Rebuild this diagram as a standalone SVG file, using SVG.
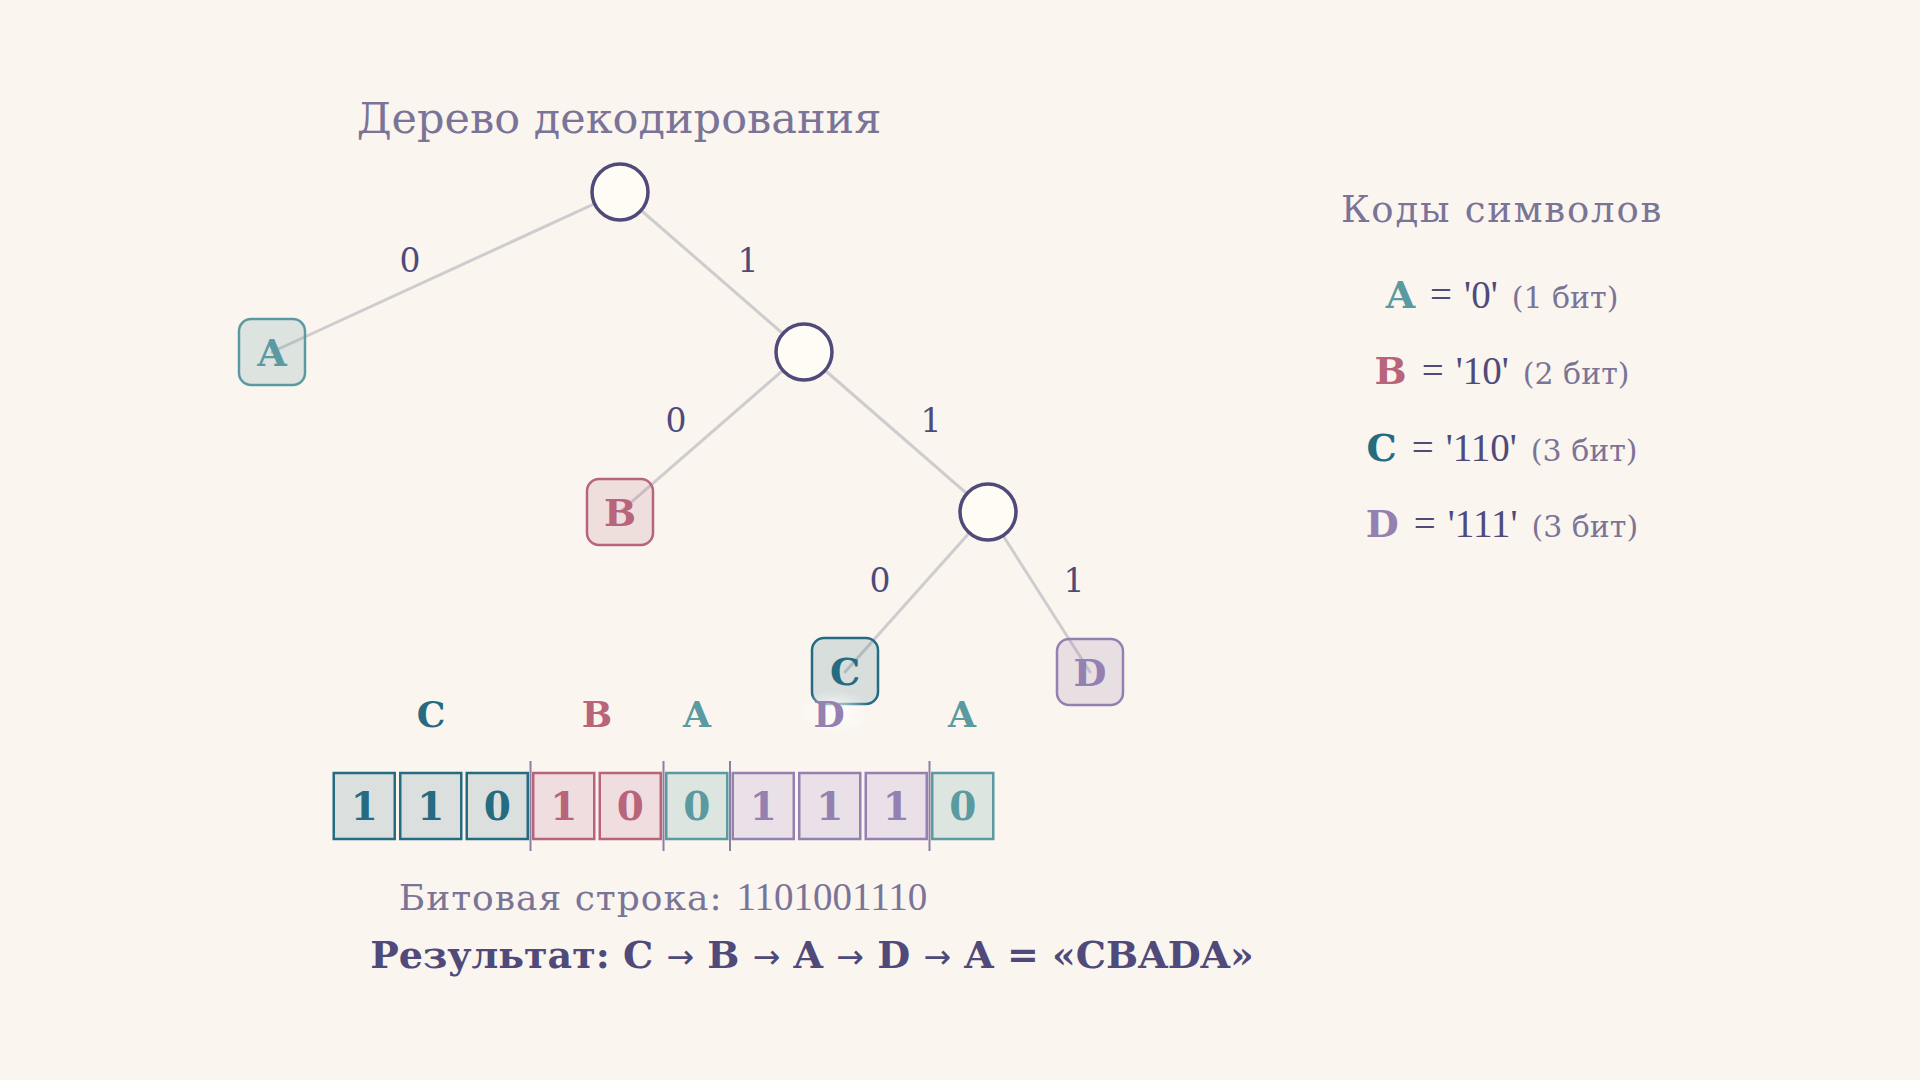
<svg xmlns="http://www.w3.org/2000/svg" width="1920" height="1080" viewBox="0 0 1920 1080">
  <defs>
    <style>
      .serif { font-family: "DejaVu Serif", "Liberation Serif", serif; }
      .num { font-family: "Liberation Serif", "DejaVu Serif", serif; }
      .title { font-family: "DejaVu Serif", serif; font-size: 43px; fill: #7a7498; text-anchor: middle; }
      .edge { stroke: #cfcbcf; stroke-width: 3; stroke-linecap: round; fill: none; }
      .elabel { font-family: "DejaVu Serif", serif; font-size: 33px; fill: #4f4a7a; text-anchor: middle; }
      .inner { fill: #fffcf5; stroke: #4f4a7a; stroke-width: 3.5; }
      .leaf { stroke-width: 2.5; }
      .leaftext { font-family: "DejaVu Serif", serif; font-weight: bold; font-size: 38px; text-anchor: middle; }
      .bit { stroke-width: 2.5; }
      .bittext { font-family: "DejaVu Serif", serif; font-weight: bold; font-size: 39px; text-anchor: middle; }
      .grp { font-family: "DejaVu Serif", serif; font-weight: bold; font-size: 36px; text-anchor: middle; }
      .sep { stroke: #8a80a0; stroke-width: 2; }
      .cA { fill: #5a9aa0; } .sA { stroke: #5a9aa0; }
      .cB { fill: #b8647a; } .sB { stroke: #b8647a; }
      .cC { fill: #256b82; } .sC { stroke: #256b82; }
      .cD { fill: #9580b2; } .sD { stroke: #9580b2; }
      .fA { fill: #dde5e0; } .fB { fill: #efdde0; } .fC { fill: #dbe0de; } .fD { fill: #e9e1e7; }
      .code { font-family: "Liberation Serif", serif; font-size: 39px; fill: #4f4a7a; }
      .bits { font-family: "DejaVu Serif", serif; font-size: 30px; fill: #7a7498; }
      .arr { font-family: "DejaVu Sans", sans-serif; font-weight: normal; font-size: 33px; }
    </style>
    <radialGradient id="halo" cx="0.5" cy="0.5" r="0.5">
      <stop offset="0" stop-color="#ffffff" stop-opacity="0.9"/>
      <stop offset="1" stop-color="#ffffff" stop-opacity="0"/>
    </radialGradient>
  </defs>

  <rect width="1920" height="1080" fill="#faf5ee"/>

  <text class="title" x="619" y="133">Дерево декодирования</text>

  <g id="connectors">
    <line class="edge" x1="620" y1="192" x2="272" y2="352"/>
    <line class="edge" x1="620" y1="192" x2="804" y2="352"/>
    <line class="edge" x1="804" y1="352" x2="620" y2="512"/>
    <line class="edge" x1="804" y1="352" x2="988" y2="512"/>
    <line class="edge" x1="988" y1="512" x2="845" y2="672"/>
    <line class="edge" x1="988" y1="512" x2="1090" y2="672"/>
    <text class="elabel" x="410" y="272">0</text>
    <text class="elabel" x="748" y="272">1</text>
    <text class="elabel" x="676" y="432">0</text>
    <text class="elabel" x="931" y="432">1</text>
    <text class="elabel" x="880" y="592">0</text>
    <text class="elabel" x="1074" y="592">1</text>
  </g>

  <g id="node-root"><circle class="inner" cx="620" cy="192" r="28"/></g>
  <g id="node-1"><circle class="inner" cx="804" cy="352" r="28"/></g>
  <g id="node-11"><circle class="inner" cx="988" cy="512" r="28"/></g>

  <g id="leaf-A">
    <rect class="leaf sA cA" x="239" y="319" width="66" height="66" rx="12" fill-opacity="0.18"/>
    <text class="leaftext cA" x="272" y="366">A</text>
  </g>
  <g id="leaf-B">
    <rect class="leaf sB cB" x="587" y="479" width="66" height="66" rx="12" fill-opacity="0.15"/>
    <text class="leaftext cB" x="620" y="526">B</text>
  </g>
  <g id="leaf-C">
    <rect class="leaf sC cC" x="812" y="638" width="66" height="66" rx="12" fill-opacity="0.16"/>
    <text class="leaftext cC" x="845" y="685">C</text>
  </g>
  <g id="leaf-D">
    <rect class="leaf sD cD" x="1057" y="639" width="66" height="66" rx="12" fill-opacity="0.18"/>
    <text class="leaftext cD" x="1090" y="686">D</text>
  </g>

  <ellipse cx="835" cy="712" rx="36" ry="22" fill="url(#halo)"/>

  <g id="codes">
    <text class="serif" x="1502" y="222" font-size="37" fill="#7a7498" text-anchor="middle" letter-spacing="1.8">Коды символов</text>
    <text x="1502" y="308" text-anchor="middle"><tspan class="leaftext cA" font-size="36">A</tspan><tspan class="code" dx="15">=</tspan><tspan class="code" dx="12">'0'</tspan><tspan class="bits" dx="14">(1 бит)</tspan></text>
    <text x="1502" y="384" text-anchor="middle"><tspan class="leaftext cB" font-size="36">B</tspan><tspan class="code" dx="15">=</tspan><tspan class="code" dx="12">'10'</tspan><tspan class="bits" dx="14">(2 бит)</tspan></text>
    <text x="1502" y="461" text-anchor="middle"><tspan class="leaftext cC" font-size="36">C</tspan><tspan class="code" dx="15">=</tspan><tspan class="code" dx="12">'110'</tspan><tspan class="bits" dx="14">(3 бит)</tspan></text>
    <text x="1502" y="537" text-anchor="middle"><tspan class="leaftext cD" font-size="36">D</tspan><tspan class="code" dx="15">=</tspan><tspan class="code" dx="12">'111'</tspan><tspan class="bits" dx="14">(3 бит)</tspan></text>
  </g>

  <g id="group-labels">
    <text class="grp cC" x="431" y="727">C</text>
    <text class="grp cB" x="597" y="727">B</text>
    <text class="grp cA" x="697" y="727">A</text>
    <text class="grp cD" x="829" y="727">D</text>
    <text class="grp cA" x="962" y="727">A</text>
  </g>

  <g id="bitstring">
    <rect class="bit sC fC" x="333.75" y="773" width="61" height="66"/>
    <rect class="bit sC fC" x="400.25" y="773" width="61" height="66"/>
    <rect class="bit sC fC" x="466.75" y="773" width="61" height="66"/>
    <rect class="bit sB fB" x="533.25" y="773" width="61" height="66"/>
    <rect class="bit sB fB" x="599.75" y="773" width="61" height="66"/>
    <rect class="bit sA fA" x="666.25" y="773" width="61" height="66"/>
    <rect class="bit sD fD" x="732.75" y="773" width="61" height="66"/>
    <rect class="bit sD fD" x="799.25" y="773" width="61" height="66"/>
    <rect class="bit sD fD" x="865.75" y="773" width="61" height="66"/>
    <rect class="bit sA fA" x="932.25" y="773" width="61" height="66"/>
    <text class="bittext cC" x="364.25" y="820">1</text>
    <text class="bittext cC" x="430.75" y="820">1</text>
    <text class="bittext cC" x="497.25" y="820">0</text>
    <text class="bittext cB" x="563.75" y="820">1</text>
    <text class="bittext cB" x="630.25" y="820">0</text>
    <text class="bittext cA" x="696.75" y="820">0</text>
    <text class="bittext cD" x="763.25" y="820">1</text>
    <text class="bittext cD" x="829.75" y="820">1</text>
    <text class="bittext cD" x="896.25" y="820">1</text>
    <text class="bittext cA" x="962.75" y="820">0</text>
    <line class="sep" x1="530.5" y1="761" x2="530.5" y2="851"/>
    <line class="sep" x1="663.5" y1="761" x2="663.5" y2="851"/>
    <line class="sep" x1="730" y1="761" x2="730" y2="851"/>
    <line class="sep" x1="929.5" y1="761" x2="929.5" y2="851"/>
  </g>

  <text x="663" y="910" text-anchor="middle" fill="#7a7498"><tspan class="serif" font-size="36" letter-spacing="1">Битовая строка:</tspan><tspan class="num" font-size="39" dx="14">1101001110</tspan></text>

  <text x="812" y="968" text-anchor="middle" fill="#4f4a7a" font-family="DejaVu Serif, serif" font-weight="bold" font-size="38">Результат: C <tspan class="arr">→</tspan> B <tspan class="arr">→</tspan> A <tspan class="arr">→</tspan> D <tspan class="arr">→</tspan> A = «CBADA»</text>
</svg>
